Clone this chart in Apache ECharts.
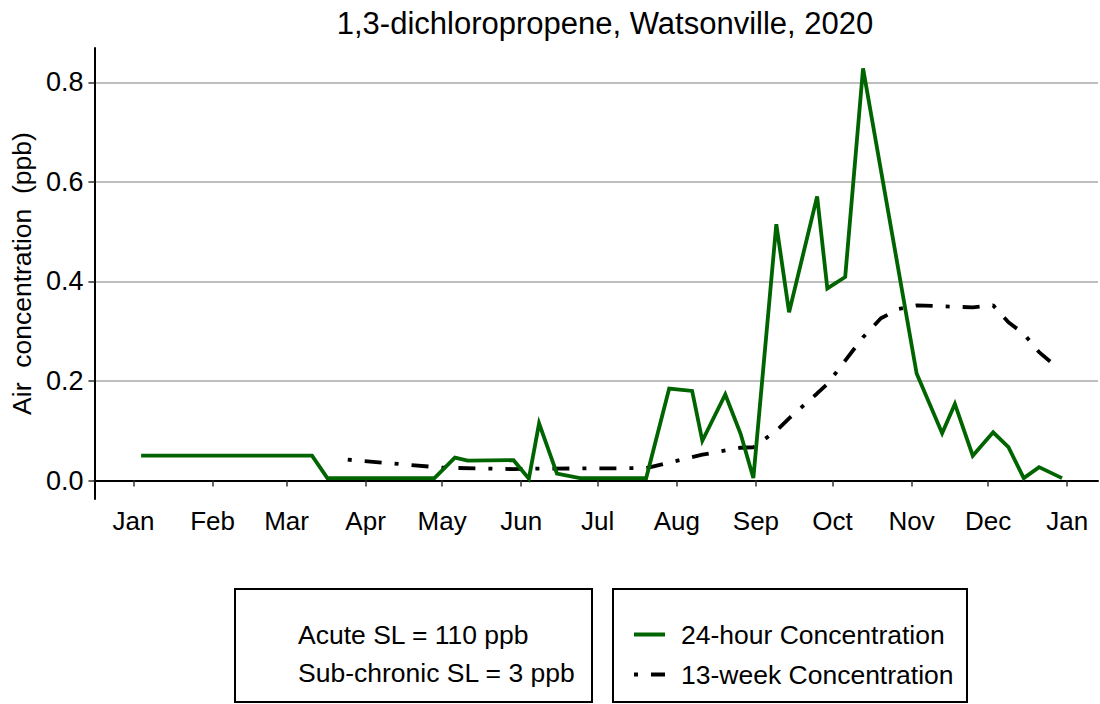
<!DOCTYPE html>
<html>
<head>
<meta charset="utf-8">
<script src="https://cdn.jsdelivr.net/npm/echarts@6/dist/echarts.min.js"></script>
<style>
html,body{margin:0;padding:0;background:#fff;}
#chart{width:1100px;height:704px;}
</style>
</head>
<body>
<div id="chart"></div>
<script>
// ---- data ----
const chartTitle = '1,3-dichloropropene, Watsonville, 2020';
const yAxisTitle = 'Air\u00a0\u00a0concentration\u00a0\u00a0(ppb)';
const monthTicks = ['2020-01-01','2020-02-01','2020-03-01','2020-04-01','2020-05-01','2020-06-01','2020-07-01','2020-08-01','2020-09-01','2020-10-01','2020-11-01','2020-12-01','2021-01-01'];
const monthLabels = ['Jan','Feb','Mar','Apr','May','Jun','Jul','Aug','Sep','Oct','Nov','Dec','Jan'];
const yTicks = [0, 0.2, 0.4, 0.6, 0.8];

const dailyDates = ['2020-01-04','2020-03-11','2020-03-17','2020-04-28','2020-05-06','2020-05-11','2020-05-29','2020-06-04','2020-06-08','2020-06-15','2020-06-24','2020-07-20','2020-07-29','2020-08-07','2020-08-11','2020-08-20','2020-08-26','2020-08-31','2020-09-09','2020-09-14','2020-09-25','2020-09-29','2020-10-06','2020-10-13','2020-11-03','2020-11-13','2020-11-18','2020-11-25','2020-12-03','2020-12-09','2020-12-15','2020-12-21','2020-12-30'];
const dailyValues = [0.050,0.050,0.005,0.005,0.046,0.040,0.041,0.004,0.115,0.014,0.005,0.005,0.185,0.180,0.080,0.173,0.094,0.005,0.515,0.338,0.571,0.386,0.409,0.828,0.215,0.095,0.154,0.050,0.097,0.067,0.005,0.027,0.005];

const weekDates = ['2020-03-25','2020-05-01','2020-05-29','2020-06-08','2020-07-20','2020-08-11','2020-08-26','2020-08-31','2020-09-09','2020-09-14','2020-09-25','2020-09-29','2020-10-06','2020-10-13','2020-10-20','2020-10-27','2020-11-03','2020-11-25','2020-12-03','2020-12-09','2020-12-15','2020-12-21','2020-12-27'];
const weekValues = [0.042,0.026,0.023,0.024,0.025,0.052,0.066,0.067,0.100,0.125,0.175,0.194,0.241,0.288,0.326,0.345,0.352,0.348,0.352,0.318,0.295,0.258,0.232];

const seriesNames = ['24-hour Concentration', '13-week Concentration'];
const slLines = ['Acute SL = 110 ppb', 'Sub-chronic SL = 3 ppb'];

// ---- helpers ----
function toTime(s){ const p = s.split('-').map(Number); return Date.UTC(p[0], p[1]-1, p[2]); }
const DAY = 86400000;
const tickTimes = monthTicks.map(toTime);
const FONT = '"Liberation Sans", Arial, Helvetica, sans-serif';

const chart = echarts.init(document.getElementById('chart'), null, {renderer: 'svg'});
chart.setOption({
  animation: false,
  backgroundColor: '#ffffff',
  textStyle: {fontFamily: FONT, color: '#000'},
  title: {
    text: chartTitle, left: 600, top: 3, textAlign: 'center',
    textStyle: {fontFamily: FONT, fontSize: 31, fontWeight: 'normal', color: '#000'}
  },
  grid: {left: 93, right: 2, top: 48, bottom: 205, containLabel: false},
  xAxis: {
    type: 'value',
    min: toTime('2020-01-01') - 15.3 * DAY,
    max: toTime('2021-01-01') + 12.1 * DAY,
    axisLine: {show: true, lineStyle: {color: '#000', width: 2}},
    axisTick: {show: true, length: 6, lineStyle: {color: '#333', width: 1.5}, customValues: tickTimes},
    axisLabel: {
      customValues: tickTimes, margin: 9, fontSize: 26, color: '#000', fontFamily: FONT,
      formatter: function(v){ const i = tickTimes.indexOf(v); return i >= 0 ? monthLabels[i] : ''; }
    },
    splitLine: {show: false}
  },
  yAxis: {
    type: 'value',
    min: -0.037, max: 0.869,
    name: yAxisTitle, nameLocation: 'middle', nameGap: 51, nameRotate: 90,
    nameTextStyle: {fontSize: 26.5, color: '#000', fontFamily: FONT},
    axisLine: {show: true, lineStyle: {color: '#000', width: 2}},
    axisTick: {show: true, length: 6, lineStyle: {color: '#333', width: 1.5}, customValues: yTicks},
    axisLabel: {
      customValues: yTicks, margin: 11, fontSize: 27, color: '#000', fontFamily: FONT,
      formatter: function(v){ return v.toFixed(1); }
    },
    splitLine: {show: true, lineStyle: {color: '#bebebe', width: 1.8}}
  },
  legend: {
    data: seriesNames,
    orient: 'vertical', left: 632, top: 621,
    itemWidth: 31, itemHeight: 26, itemGap: 13,
    padding: 0,
    itemStyle: {opacity: 0},
    lineStyle: {width: 4},
    textStyle: {fontSize: 26.5, color: '#000', fontFamily: FONT, padding: [0, 0, 0, 11]}
  },
  graphic: [
    {type: 'rect', shape: {x: 235, y: 589, width: 357, height: 113}, style: {fill: 'none', stroke: '#000', lineWidth: 2}, silent: true},
    {type: 'rect', shape: {x: 613, y: 589, width: 354, height: 113}, style: {fill: 'none', stroke: '#000', lineWidth: 2}, silent: true},
    {type: 'text', left: 298, top: 621, style: {text: slLines[0], font: '26.5px ' + FONT, fill: '#000'}},
    {type: 'text', left: 298, top: 659, style: {text: slLines[1], font: '26.5px ' + FONT, fill: '#000'}}
  ],
  series: [
    {
      name: seriesNames[0], type: 'line', symbol: 'none',
      data: dailyDates.map((d, i) => [toTime(d), dailyValues[i]]),
      lineStyle: {color: '#006400', width: 3.8, join: 'miter', cap: 'butt'},
      itemStyle: {color: '#006400'}, z: 3
    },
    {
      name: seriesNames[1], type: 'line', symbol: 'none',
      data: weekDates.map((d, i) => [toTime(d), weekValues[i]]),
      lineStyle: {color: '#000', width: 3.8, type: [4, 13, 17, 13], cap: 'butt'},
      itemStyle: {color: '#000'}, z: 2
    }
  ]
});
</script>
</body>
</html>
